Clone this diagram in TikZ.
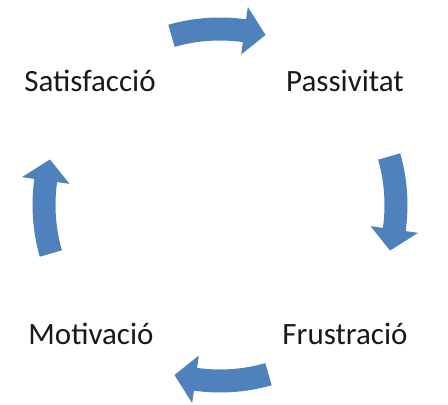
\documentclass[tikz,border=0pt]{standalone}
\usepackage{fontspec}
\setmainfont{Carlito}
\definecolor{cycblue}{RGB}{79,129,189}
\tikzset{
  label/.style={font=\fontsize{31}{37}\selectfont, text=black!90, anchor=base, inner sep=0pt},
  cycarrow/.style={fill=cycblue, draw=none}
}
\begin{document}
\begin{tikzpicture}[x=1pt,y=1pt]
\useasboundingbox (0,0) rectangle (448,405);
% labels (baseline positions)
\node[label] (sat) at (90,313) {Satisfacció};
\node[label] (pas) at (345,313) {Passivitat};
\node[label] (fru) at (345,60) {Frustració};
\node[label] (mot) at (91,60) {Motivació};
% curved block arrows on a circle around the centre
\begin{scope}[shift={(220,200)}]
\def\R{176}\def\W{11.5}\def\H{24}
\foreach \c in {90,0,-90,180}{
  \pgfmathsetmacro{\ta}{\c+16}
  \pgfmathsetmacro{\tb}{\c-8}
  \pgfmathsetmacro{\tt}{\c-15}
  \fill[cycarrow] (\ta:\R+\W) arc[start angle=\ta, end angle=\tb, radius=\R+\W]
    -- (\tb:\R+\H) -- (\tt:\R) -- (\tb:\R-\H) -- (\tb:\R-\W)
    arc[start angle=\tb, end angle=\ta, radius=\R-\W] -- cycle;
}
\end{scope}
\end{tikzpicture}
\end{document}
